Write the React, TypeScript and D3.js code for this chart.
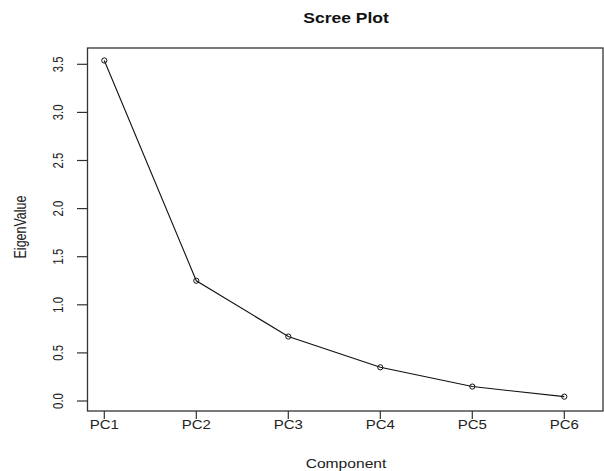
import { scaleLinear, line } from 'd3'

const width = 604,
      height = 471,
      box = { left: 87.5, right: 603, top: 48, bottom: 411 }

const components = ['PC1', 'PC2', 'PC3', 'PC4', 'PC5', 'PC6']
const eigenValues = [3.54, 1.25, 0.67, 0.35, 0.15, 0.045]
const yTicks = [0, 0.5, 1, 1.5, 2, 2.5, 3, 3.5]

const font = 'Liberation Sans, Arial, sans-serif'
const sx = 1.25 // the picture is a bit wide, stretch text sideways

export default function App() {
  const x = scaleLinear().domain([0, components.length - 1]).range([104.3, 564.3])
  const y = scaleLinear().domain([0, 3.5]).range([401, 64.3])

  const path = line<number>()
    .x((d, i) => x(i))
    .y(d => y(d))(eigenValues)

  return (
    <svg width={width} height={height} style={{ position: 'absolute', left: 0, top: 0, background: '#fff' }}>
      <text transform={`translate(346,23) scale(${sx},1)`} textAnchor='middle'
        fontFamily={font} fontWeight='bold' fontSize={14} fill='#111'>Scree Plot</text>

      <rect x={box.left} y={box.top} width={box.right - box.left} height={box.bottom - box.top}
        fill='none' stroke='#333' strokeWidth={1.3} />

      {yTicks.map(t => (
        <g key={t}>
          <line x1={77} x2={box.left} y1={y(t)} y2={y(t)} stroke='#333' strokeWidth={1.2} />
          <text transform={`translate(62.5,${y(t)}) scale(${sx},0.95) rotate(-90)`} textAnchor='middle'
            fontFamily={font} fontSize={12} fill='#222'>{t.toFixed(1)}</text>
        </g>
      ))}

      {components.map((c, i) => (
        <g key={c}>
          <line x1={x(i)} x2={x(i)} y1={box.bottom} y2={box.bottom + 8} stroke='#333' strokeWidth={1.2} />
          <text transform={`translate(${x(i)},428.5) scale(${sx},1)`} textAnchor='middle'
            fontFamily={font} fontSize={12} fill='#222'>{c}</text>
        </g>
      ))}

      <text transform={`translate(346,467.5) scale(${sx},1)`} textAnchor='middle'
        fontFamily={font} fontSize={12.5} fill='#222'>Component</text>
      <text transform={`translate(26,227) scale(${sx},1) rotate(-90)`} textAnchor='middle'
        fontFamily={font} fontSize={12.5} fill='#222'>EigenValue</text>

      <path d={path ?? ''} fill='none' stroke='#111' strokeWidth={1.1} />
      {eigenValues.map((v, i) => (
        <circle key={i} cx={x(i)} cy={y(v)} r={2.6} fill='none' stroke='#111' strokeWidth={1} />
      ))}
    </svg>
  )
}
